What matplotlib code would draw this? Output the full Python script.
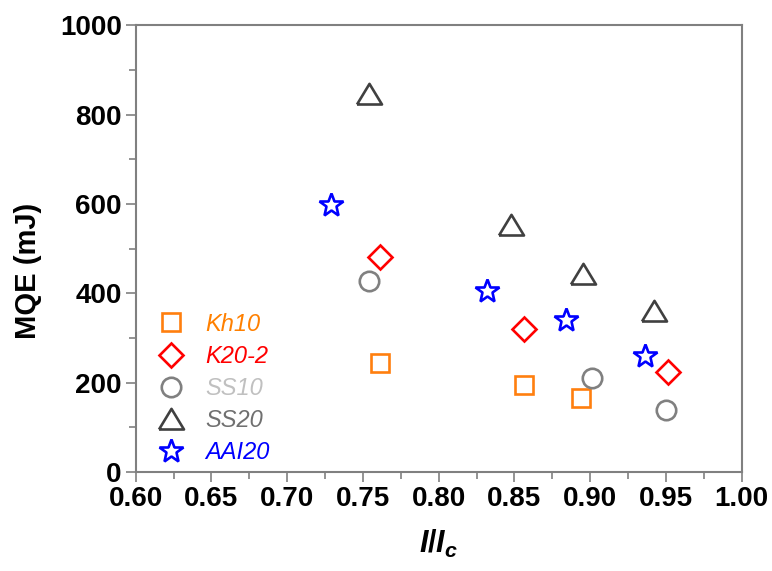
import matplotlib.pyplot as plt
from matplotlib.ticker import MultipleLocator

plt.rcParams['font.family'] = ['Liberation Sans', 'DejaVu Sans']
plt.rcParams['mathtext.fontset'] = 'custom'
plt.rcParams['mathtext.it'] = 'Liberation Sans:italic:bold'
plt.rcParams['mathtext.rm'] = 'Liberation Sans:bold'

# Data (I/Ic, MQE in mJ)
kh10_x = [0.761, 0.856, 0.894]
kh10_y = [244, 195, 166]
k20_x = [0.761, 0.856, 0.951]
k20_y = [481, 320, 224]
ss10_x = [0.754, 0.901, 0.950]
ss10_y = [427, 210, 139]
ss20_x = [0.754, 0.848, 0.895, 0.942]
ss20_y = [846, 553, 443, 361]
aai20_x = [0.729, 0.832, 0.884, 0.936]
aai20_y = [597, 406, 340, 260]

labels = ['Kh10', 'K20-2', 'SS10', 'SS20', 'AAI20']
marker_colors = ['#ff7f0e', '#ff0000', '#808080', '#404040', '#0000ff']
label_colors = ['#ff8000', '#ff0000', '#c0c0c0', '#707070', '#0000ff']

tri = [(-1.0, -0.8), (1.0, -0.8), (0.0, 0.85), (-1.0, -0.8)]
markers = ['s', 'D', 'o', tri, '*']
sizes = [12.5, 12.5, 14, 18, 18]

fig = plt.figure(figsize=(7.72, 5.71), dpi=100)
ax = fig.add_axes([0.1758, 0.1734, 0.785, 0.782])

series = [(kh10_x, kh10_y), (k20_x, k20_y), (ss10_x, ss10_y),
          (ss20_x, ss20_y), (aai20_x, aai20_y)]
handles = []
for (xs, ys), m, c, s, lab in zip(series, markers, marker_colors, sizes, labels):
    h, = ax.plot(xs, ys, linestyle='none', marker=m, markersize=s,
                 markerfacecolor='none', markeredgecolor=c,
                 markeredgewidth=1.9, label=lab)
    handles.append(h)

ax.set_xlim(0.60, 1.00)
ax.set_ylim(0, 1000)
ax.xaxis.set_major_locator(MultipleLocator(0.05))
ax.xaxis.set_minor_locator(MultipleLocator(0.025))
ax.yaxis.set_major_locator(MultipleLocator(200))
ax.yaxis.set_minor_locator(MultipleLocator(100))
ax.xaxis.set_major_formatter(lambda v, p: f'{v:.2f}')

for sp in ax.spines.values():
    sp.set_color('#808080')
    sp.set_linewidth(1.5)
ax.tick_params(which='both', direction='out', color='#808080', width=1.2,
               labelsize=20, pad=3)
ax.tick_params(which='major', length=7)
ax.tick_params(which='minor', length=5)
for t in ax.get_xticklabels() + ax.get_yticklabels():
    t.set_fontweight('bold')

ax.set_ylabel('MQE (mJ)', fontsize=21, fontweight='bold')
ax.yaxis.set_label_coords(-0.155, 0.45)
ax.set_xlabel(r'$I/I_c$', fontsize=22)
ax.xaxis.set_label_coords(0.5, -0.125)

ax.legend(handles=handles, loc='lower left', bbox_to_anchor=(0.0, -0.02),
          frameon=False, labelcolor=label_colors,
          prop={'style': 'italic', 'size': 17},
          handletextpad=0.65, labelspacing=0.39, borderaxespad=0.3,
          handlelength=1.6)

fig.savefig('out.png', dpi=100)
